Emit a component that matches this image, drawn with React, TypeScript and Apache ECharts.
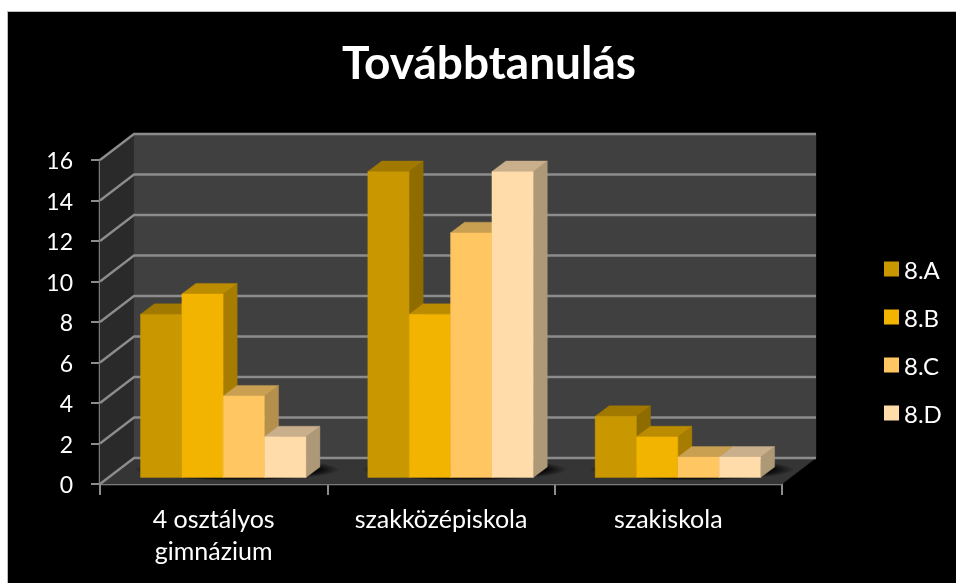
import React, { useEffect, useRef } from "react";
import * as echarts from "echarts";

const categories = ["4 osztályos\ngimnázium", "szakközépiskola", "szakiskola"];
const seriesNames = ["8.A", "8.B", "8.C", "8.D"];
const valuesA = [8, 15, 3];
const valuesB = [9, 8, 2];
const valuesC = [4, 12, 1];
const valuesD = [2, 15, 1];
const yTicks = [0, 2, 4, 6, 8, 10, 12, 14, 16];
const titleText = "Továbbtanulás";

const frontColors = ["#C99700", "#F2B400", "#FFC661", "#FFDCA9"];
const topColors = ["#A17900", "#BC8C00", "#C9A052", "#C9AF8B"];
const sideColors = ["#8F6C00", "#A67D00", "#B5904C", "#AD9878"];

const WALL_DX = 34;
const WALL_DY = -26;
const BAR_DY = -6.5;
const DEPTH_DX = 14;
const DEPTH_DY = -10.5;
const GRID_COLOR = "#8C8C8C";
const FONT = "Lato";

const allValues = [valuesA, valuesB, valuesC, valuesD];

function poly(points: number[][], fill: string) {
  return { type: "polygon", shape: { points }, style: { fill, stroke: fill, lineWidth: 0.4 } };
}

function renderWalls(_p: any, api: any) {
  const cw = api.size([1, 0])[0];
  const [x0, y0] = api.coord([0, 0]);
  const yTop = api.coord([0, yTicks[yTicks.length - 1]])[1];
  const left = x0 - cw / 2;
  const right = left + cw * categories.length;
  const shadows = categories.map((_, c) => {
    const cx = api.coord([c, 0])[0];
    const bl = cx - cw / 2 + cw * 0.178;
    const br = bl + cw * 0.728;
    return {
      type: "ellipse",
      shape: { cx: (bl + br) / 2 + 14, cy: y0 + BAR_DY - 8, rx: (br - bl) / 2 + 20, ry: 11 },
      style: {
        fill: {
          type: "radial",
          x: 0.5,
          y: 0.5,
          r: 0.5,
          colorStops: [
            { offset: 0, color: "rgba(0,0,0,0.9)" },
            { offset: 0.8, color: "rgba(0,0,0,0.8)" },
            { offset: 1, color: "rgba(0,0,0,0)" },
          ],
        },
      },
    };
  });
  return {
    type: "group",
    children: [
      poly([[left, y0], [left + WALL_DX, y0 + WALL_DY], [left + WALL_DX, yTop + WALL_DY], [left, yTop]], "#2A2A2A"),
      poly([[left + WALL_DX, y0 + WALL_DY], [right + WALL_DX, y0 + WALL_DY], [right + WALL_DX, yTop + WALL_DY], [left + WALL_DX, yTop + WALL_DY]], "#404040"),
      poly([[left, y0], [left + WALL_DX, y0 + WALL_DY], [right + WALL_DX, y0 + WALL_DY], [right, y0]], "#353535"),
      ...shadows,
    ],
  };
}

function renderGridLine(_p: any, api: any) {
  const cw = api.size([1, 0])[0];
  const left = api.coord([0, 0])[0] - cw / 2;
  const right = left + cw * categories.length;
  const y = api.coord([0, api.value(0)])[1];
  return {
    type: "polyline",
    shape: { points: [[left, y], [left + WALL_DX, y + WALL_DY], [right + WALL_DX, y + WALL_DY]] },
    style: { stroke: GRID_COLOR, lineWidth: 2.4, fill: "none" },
  };
}

function makeBarRenderer(i: number) {
  return (_p: any, api: any) => {
    const c = api.value(0);
    const v = api.value(1);
    const cw = api.size([1, 0])[0];
    const [cx, base] = api.coord([c, 0]);
    const top = api.coord([c, v])[1];
    const w = cw * 0.182;
    const x = cx - cw / 2 + cw * 0.178 + i * w;
    const yb = base + BAR_DY;
    const yt = yb - (base - top) * 1.0074;
    return {
      type: "group",
      children: [
        poly([[x + w, yb], [x + w + DEPTH_DX, yb + DEPTH_DY], [x + w + DEPTH_DX, yt + DEPTH_DY], [x + w, yt]], sideColors[i]),
        poly([[x, yt], [x + DEPTH_DX, yt + DEPTH_DY], [x + w + DEPTH_DX, yt + DEPTH_DY], [x + w, yt]], topColors[i]),
        poly([[x, yb], [x, yt], [x + w, yt], [x + w, yb]], frontColors[i]),
      ],
    };
  };
}

export default function App() {
  const ref = useRef<HTMLDivElement>(null);
  useEffect(() => {
    const chart = echarts.init(ref.current!, undefined, { renderer: "svg" });
    chart.setOption({
      animation: false,
      backgroundColor: "transparent",
      title: {
        text: titleText,
        left: 484,
        top: 33,
        textAlign: "center",
        textStyle: { color: "#FFFFFF", fontFamily: FONT, fontWeight: "bold", fontSize: 46 },
      },
      legend: {
        data: seriesNames.map((name, i) => ({ name, itemStyle: { color: frontColors[i] } })),
        orient: "vertical",
        left: 879,
        top: 252,
        icon: "rect",
        itemWidth: 15,
        itemHeight: 15,
        itemGap: 24,
        selectedMode: false,
        textStyle: { color: "#FFFFFF", fontFamily: FONT, fontSize: 24 },
      },
      grid: { left: 100, top: 160, width: 682, height: 324, containLabel: false },
      xAxis: {
        type: "category",
        data: categories,
        axisLine: { lineStyle: { color: GRID_COLOR, width: 2.4 } },
        axisTick: { show: true, length: 11, lineStyle: { color: GRID_COLOR, width: 2 } },
        axisLabel: { color: "#FFFFFF", fontFamily: FONT, fontSize: 25, lineHeight: 32, margin: 18, interval: 0 },
      },
      yAxis: {
        type: "value",
        min: 0,
        max: 16,
        interval: 2,
        axisLine: { show: true, lineStyle: { color: GRID_COLOR, width: 2.4 } },
        axisTick: { show: true, length: 9, lineStyle: { color: GRID_COLOR, width: 2 } },
        axisLabel: { color: "#FFFFFF", fontFamily: FONT, fontSize: 23, margin: 27 },
        splitLine: { show: false },
      },
      series: [
        { type: "custom", silent: true, z: 1, data: [[0]], renderItem: renderWalls, encode: { x: 0 }, clip: false },
        { type: "custom", silent: true, z: 2, data: yTicks.map((t) => [t]), renderItem: renderGridLine, encode: { y: 0 }, clip: false },
        ...seriesNames.map((name, i) => ({
          type: "custom",
          name,
          silent: true,
          z: 3 + i,
          clip: false,
          itemStyle: { color: frontColors[i] },
          data: allValues[i].map((v, c) => [c, v]),
          encode: { x: 0, y: 1 },
          renderItem: makeBarRenderer(i),
        })),
      ],
    });
    return () => chart.dispose();
  }, []);
  return (
    <div style={{ position: "fixed", left: 0, top: 0, width: 956, height: 583, background: "#FFFFFF", overflow: "hidden" }}>
      <div style={{ position: "absolute", left: 8, top: 12, width: 948, height: 571, background: "#000000", boxShadow: "0 0 0 1px #BDBDBD" }} />
      <div ref={ref} style={{ position: "absolute", left: 0, top: 0, width: 956, height: 583, filter: "blur(0.6px)" }} />
    </div>
  );
}
